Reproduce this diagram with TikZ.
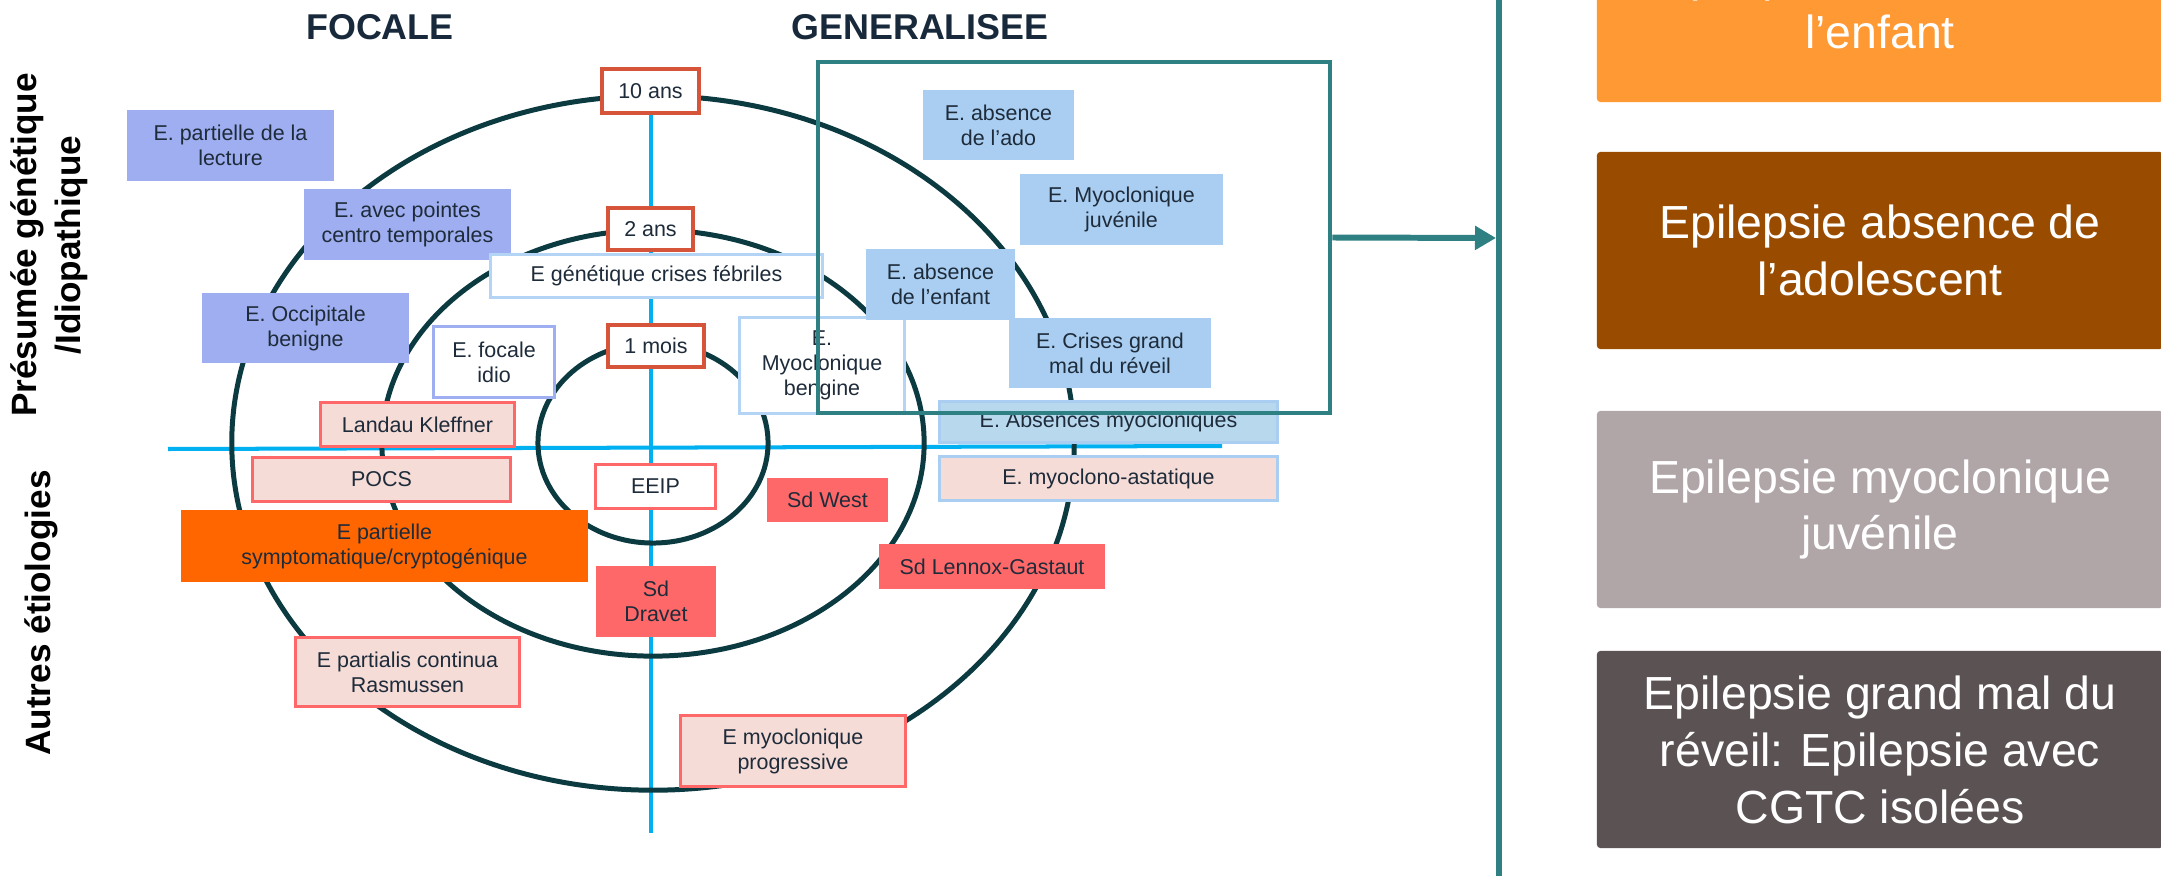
\documentclass[tikz,border=0pt]{standalone}
\usepackage{fontspec}
\setmainfont{Liberation Sans}
\usetikzlibrary{arrows.meta}
\definecolor{ink}{RGB}{30,43,58}
\definecolor{headc}{RGB}{23,41,58}
\definecolor{peri}{RGB}{158,174,240}
\definecolor{lblue}{RGB}{169,206,241}
\definecolor{pblue}{RGB}{179,212,245}
\definecolor{absfill}{RGB}{184,216,237}
\definecolor{pinkfill}{RGB}{245,220,215}
\definecolor{redb}{RGB}{255,104,104}
\definecolor{orangeb}{RGB}{255,102,0}
\definecolor{agec}{RGB}{214,84,58}
\definecolor{ringc}{RGB}{11,58,64}
\definecolor{axisc}{RGB}{0,176,240}
\definecolor{tealc}{RGB}{46,128,130}
\definecolor{pan1}{RGB}{255,153,51}
\definecolor{pan2}{RGB}{153,76,0}
\definecolor{pan3}{RGB}{176,166,168}
\definecolor{pan4}{RGB}{91,82,84}
\newcommand{\cellfont}{\fontsize{6.1}{7.1}\selectfont}
\newcommand{\headfont}{\fontsize{10.2}{12}\selectfont\bfseries}
\newcommand{\sidefont}{\fontsize{10}{12.5}\selectfont\bfseries}
\newcommand{\panelfont}{\fontsize{13.2}{16.2}\selectfont}
\begin{document}
\begin{tikzpicture}[x=0.01cm, y=-0.01cm,
    cell/.style={rectangle, inner sep=0pt, align=center, font=\cellfont, text=ink},
    peribox/.style={cell, fill=peri},
    blueb/.style={cell, fill=lblue},
    openblue/.style={cell, fill=white, draw=pblue, line width=0.85pt},
    pinkb/.style={cell, fill=pinkfill, draw=redb, line width=0.85pt},
    redbox/.style={cell, fill=redb},
    agebox/.style={cell, fill=white, draw=agec, line width=1.14pt},
    ring/.style={draw=ringc, line width=1.42pt},
    axis/.style={draw=axisc, line width=1.14pt},
    panel/.style={rectangle, inner sep=0pt, align=center, font=\panelfont, text=white,
      minimum width=5.66cm, minimum height=1.97cm, rounded corners=1pt}]
      \useasboundingbox (0,0) rectangle (2161,876);
      \coordinate (hl) at (168,449);
      \coordinate (hr) at (1222,446);
      \coordinate (vt) at (651,67);
      \coordinate (vb) at (651,833);
      \draw[axis] (hl) -- (hr);
      \draw[axis] (vt) -- (vb);
      \coordinate (c0) at (653,443);
      \draw[ring] (c0) ellipse [x radius=4.21cm, y radius=3.47cm];
      \draw[ring] (c0) ellipse [x radius=2.71cm, y radius=2.13cm];
      \draw[ring] (c0) ellipse [x radius=1.15cm, y radius=1.00cm];
      \node (focal)[font=\headfont, text=headc] at (380,27) {FOCALE};
      \node (gener)[font=\headfont, text=headc] at (920,27) {GENERALISEE};
      \node (presu)[font=\sidefont, align=center, rotate=90] at (49,245) {Présumée génétique\\/Idiopathique};
      \node (autres)[font=\sidefont, rotate=90] at (41,613) {Autres étiologies};
      \node (lect)[peribox, minimum width=2.07cm, minimum height=0.71cm] at (230.5,145.5) {E. partielle de la\\lecture};
      \node (ctemp)[peribox, minimum width=2.07cm, minimum height=0.71cm] at (407.5,224.5) {E. avec pointes\\centro temporales};
      \node (occ)[peribox, minimum width=2.07cm, minimum height=0.70cm] at (305.5,328) {E. Occipitale\\benigne};
      \node (focid)[cell, fill=white, draw=peri, line width=0.85pt, minimum width=1.20cm, minimum height=0.70cm] at (494,362) {E. focale\\idio};
      \node (febr)[openblue, minimum width=3.31cm, minimum height=0.42cm] at (656.5,276) {E génétique crises fébriles};
      \node (mbeng)[openblue, minimum width=1.64cm, minimum height=0.95cm] at (822,365.5) {E.\\Myoclonique\\bengine};
      \node (a10)[agebox, minimum width=0.97cm, minimum height=0.44cm] at (650.5,91) {10 ans};
      \node (a2)[agebox, minimum width=0.85cm, minimum height=0.42cm] at (650.5,229) {2 ans};
      \node (a1)[agebox, minimum width=0.96cm, minimum height=0.42cm] at (656,346) {1 mois};
      \node (ado)[blueb, minimum width=1.51cm, minimum height=0.70cm] at (998.5,125) {E. absence\\de l’ado};
      \node (mjuv)[blueb, minimum width=2.03cm, minimum height=0.71cm] at (1121.5,209.5) {E. Myoclonique\\juvénile};
      \node (enf)[blueb, minimum width=1.49cm, minimum height=0.71cm] at (940.5,284.5) {E. absence\\de l’enfant};
      \node (gmal)[blueb, minimum width=2.02cm, minimum height=0.70cm] at (1110,353) {E. Crises grand\\mal du réveil};
      \node (absm)[cell, fill=absfill, draw=lblue, line width=0.85pt, minimum width=3.37cm, minimum height=0.40cm] at (1108.5,422) {E. Absences myocloniques};
      \node (astat)[cell, fill=pinkfill, draw=lblue, line width=0.85pt, minimum width=3.37cm, minimum height=0.43cm] at (1108.5,478.5) {E. myoclono-astatique};
      \node (landau)[pinkb, minimum width=1.93cm, minimum height=0.43cm] at (417.5,424.5) {Landau Kleffner};
      \node (pocs)[pinkb, minimum width=2.57cm, minimum height=0.43cm] at (381.5,479.5) {POCS};
      \node (symp)[cell, fill=orangeb, minimum width=4.07cm, minimum height=0.72cm] at (384.5,546) {E partielle\\symptomatique/cryptogénique};
      \node (rasm)[pinkb, minimum width=2.23cm, minimum height=0.68cm] at (407.5,672) {E partialis continua\\Rasmussen};
      \node (eeip)[cell, fill=white, draw=redb, line width=0.85pt, minimum width=1.19cm, minimum height=0.43cm] at (655.5,486.5) {EEIP};
      \node (dravet)[redbox, minimum width=1.20cm, minimum height=0.71cm] at (656,601.5) {Sd\\Dravet};
      \node (west)[redbox, minimum width=1.21cm, minimum height=0.44cm] at (827.5,500) {Sd West};
      \node (lennox)[redbox, minimum width=2.26cm, minimum height=0.45cm] at (992,566.5) {Sd Lennox-Gastaut};
      \node (mprog)[pinkb, minimum width=2.24cm, minimum height=0.70cm] at (793,751) {E myoclonique\\progressive};
      \node (gframe)[draw=tealc, line width=1.28pt, minimum width=5.12cm, minimum height=3.51cm, inner sep=0pt] at (1074,237.5) {};
      \coordinate (btop) at (1499,-5);
      \coordinate (bbot) at (1499,881);
      \coordinate (bar) at (1496,238);
      \draw[tealc, line width=1.85pt] (btop) -- (bbot);
      \draw[tealc, line width=1.7pt, -{Triangle[length=0.21cm, width=0.23cm]}] (gframe.east) -- (bar);
      \node (p1)[panel, fill=pan1] at (1880,3.5) {Epilepsie absence de\\l’enfant};
      \node (p2)[panel, fill=pan2] at (1880,250.5) {Epilepsie absence de\\l’adolescent};
      \node (p3)[panel, fill=pan3] at (1880,509.5) {Epilepsie myoclonique\\juvénile};
      \node (p4)[panel, fill=pan4] at (1880,749.5) {Epilepsie grand mal du\\réveil: Epilepsie avec\\CGTC isolées};
    \end{tikzpicture}
\end{document}
